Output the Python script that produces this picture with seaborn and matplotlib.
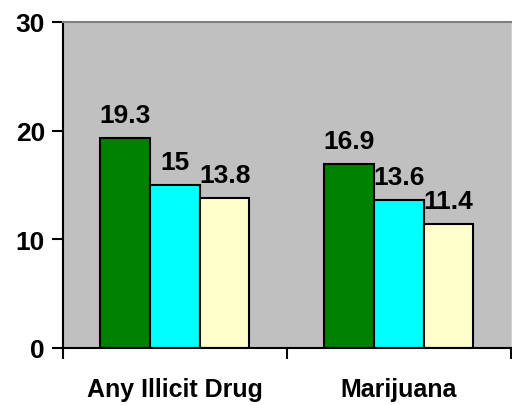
import pandas as pd
import numpy as np
import matplotlib.pyplot as plt
import seaborn as sns

# dati
categories = ['Any Illicit Drug', 'Marijuana']
series_names = ['Series 1', 'Series 2', 'Series 3']
any_illicit = [19.3, 15, 13.8]
marijuana = [16.9, 13.6, 11.4]
bar_colors = ['#008000', '#00FFFF', '#FFFFCC']
y_ticks = [0, 10, 20, 30]

df = pd.DataFrame({
    'category': [categories[0]] * 3 + [categories[1]] * 3,
    'series': series_names * 2,
    'value': any_illicit + marijuana,
})

sns.set_style('white')
plt.rcParams['font.family'] = ['Liberation Sans', 'DejaVu Sans']
plt.rcParams['font.weight'] = 'bold'
plt.rcParams['text.color'] = 'black'
plt.rcParams['xtick.color'] = 'black'
plt.rcParams['ytick.color'] = 'black'

fig = plt.figure(figsize=(5.12, 4.06), dpi=100)
ax = fig.add_axes([0.123, 0.1404, 0.875, 0.803])
ax.set_facecolor('#C0C0C0')

sns.barplot(data=df, x='category', y='value', hue='series', palette=bar_colors,
            saturation=1, width=0.665, gap=0, edgecolor='black', linewidth=1.5,
            legend=False, ax=ax)

# etichette sopra le barre
for cont in ax.containers:
    labels = ['%g' % v for v in cont.datavalues]
    ax.bar_label(cont, labels=labels, padding=8, fontsize=19,
                 fontweight='bold', color='black')

ax.set_xlim(-0.5, 1.5)
ax.set_ylim(0, 30)
ax.set_yticks(y_ticks)
ax.set_yticklabels([str(t) for t in y_ticks], fontsize=19, fontweight='bold')
ax.set_xticks([0, 1])
ax.set_xticklabels(categories, fontsize=18, fontweight='bold')
ax.set_xticks([-0.5, 0.5, 1.5], minor=True)
ax.tick_params(axis='x', which='major', length=0, pad=21, bottom=True)
ax.tick_params(axis='x', which='minor', length=8, width=1.5, color='black',
               direction='out', bottom=True)
ax.tick_params(axis='y', length=8, width=1.5, color='black', direction='out',
               left=True, pad=5)
ax.set_xlabel('')
ax.set_ylabel('')

for side in ['left', 'bottom']:
    ax.spines[side].set_color('black')
    ax.spines[side].set_linewidth(1.5)
ax.spines['top'].set_color('#808080')
ax.spines['top'].set_linewidth(1.5)
ax.spines['right'].set_color('#D0D0D0')

fig.savefig('out.png', dpi=100)
